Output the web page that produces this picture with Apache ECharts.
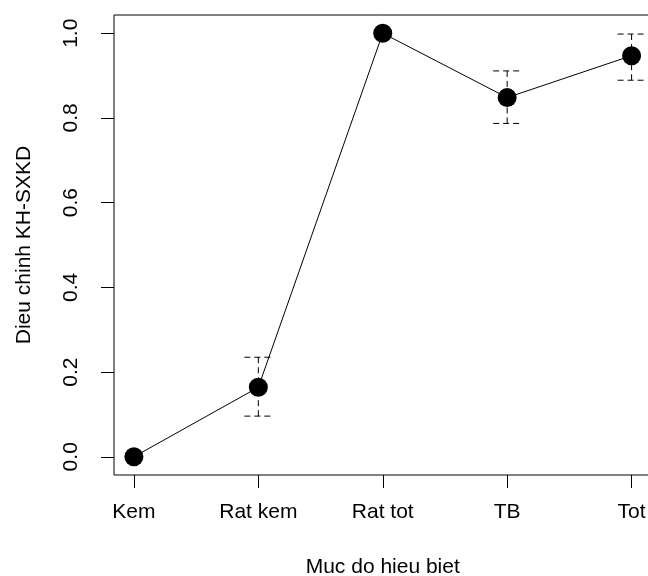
<!DOCTYPE html>
<html>
<head>
<meta charset="utf-8">
<script src="https://cdn.jsdelivr.net/npm/echarts@6/dist/echarts.min.js"></script>
<style>html,body{margin:0;padding:0;background:#fff}#c{width:648px;height:576px}</style>
</head>
<body>
<div id="c"></div>
<script>
const categories = ['Kem', 'Rat kem', 'Rat tot', 'TB', 'Tot'];
const means = [0, 0.164, 1.0, 0.848, 0.947];
const lower = [null, 0.096, null, 0.787, 0.889];
const upper = [null, 0.235, null, 0.911, 0.998];
const yTicks = [0, 0.2, 0.4, 0.6, 0.8, 1.0];
const xTitle = 'Muc do hieu biet';
const yTitle = 'Dieu chinh KH-SXKD';

const FONT = 'Liberation Sans, Arial, sans-serif';
const xPos = categories.map((c, i) => i + 1);
const lineData = means.map((m, i) => [xPos[i], m]);
const errData = [];
for (let i = 0; i < categories.length; i++) {
  if (lower[i] != null && upper[i] != null) errData.push([xPos[i], lower[i], upper[i], means[i]]);
}

const chart = echarts.init(document.getElementById('c'), null, {renderer: 'canvas'});
chart.setOption({
  animation: false,
  backgroundColor: '#fff',
  grid: {left: 114, right: -3.5, top: 15, bottom: 101, show: true, borderColor: '#000', borderWidth: 1,
    backgroundColor: 'transparent', containLabel: false, outerBoundsMode: 'none'},
  xAxis: {
    type: 'value', min: 0.84, max: 5.16,
    name: xTitle, nameLocation: 'middle', nameGap: 82,
    nameTextStyle: {fontFamily: FONT, fontSize: 21, color: '#000'},
    axisLine: {show: false, onZero: false},
    splitLine: {show: false},
    axisTick: {show: true, inside: false, length: 13, lineStyle: {color: '#000', width: 1}, customValues: xPos},
    axisLabel: {show: true, margin: 27, fontFamily: FONT, fontSize: 21, color: '#000', customValues: xPos,
      formatter: v => categories[Math.round(v) - 1] || ''}
  },
  yAxis: {
    type: 'value', min: -0.043, max: 1.043,
    name: yTitle, nameLocation: 'middle', nameGap: 79,
    nameTextStyle: {fontFamily: FONT, fontSize: 21, color: '#000'},
    axisLine: {show: false, onZero: false},
    splitLine: {show: false},
    axisTick: {show: true, inside: false, length: 13, lineStyle: {color: '#000', width: 1}, customValues: yTicks},
    axisLabel: {show: true, rotate: 90, margin: 32, fontFamily: FONT, fontSize: 21, color: '#000', customValues: yTicks,
      formatter: v => v.toFixed(1)}
  },
  series: [
    {
      type: 'custom',
      z: 1,
      data: errData,
      renderItem: function (params, api) {
        const x = api.value(0);
        const lo = api.coord([x, api.value(1)]);
        const hi = api.coord([x, api.value(2)]);
        const mid = api.coord([x, api.value(3)]);
        const hw = 14;
        const style = {stroke: '#000', lineWidth: 1, lineDash: [6, 4], fill: null};
        return {
          type: 'group',
          children: [
            {type: 'line', shape: {x1: hi[0], y1: hi[1], x2: mid[0], y2: mid[1]}, style: style},
            {type: 'line', shape: {x1: lo[0], y1: lo[1], x2: mid[0], y2: mid[1]}, style: style},
            {type: 'line', shape: {x1: hi[0] - hw, y1: hi[1], x2: hi[0] + hw, y2: hi[1]}, style: style},
            {type: 'line', shape: {x1: lo[0] - hw, y1: lo[1], x2: lo[0] + hw, y2: lo[1]}, style: style}
          ]
        };
      }
    },
    {
      type: 'line',
      z: 3,
      data: lineData,
      symbol: 'circle',
      symbolSize: 19,
      showSymbol: true,
      itemStyle: {color: '#000', borderWidth: 0},
      lineStyle: {color: '#000', width: 1},
      emphasis: {disabled: true}
    }
  ]
});
</script>
</body>
</html>
